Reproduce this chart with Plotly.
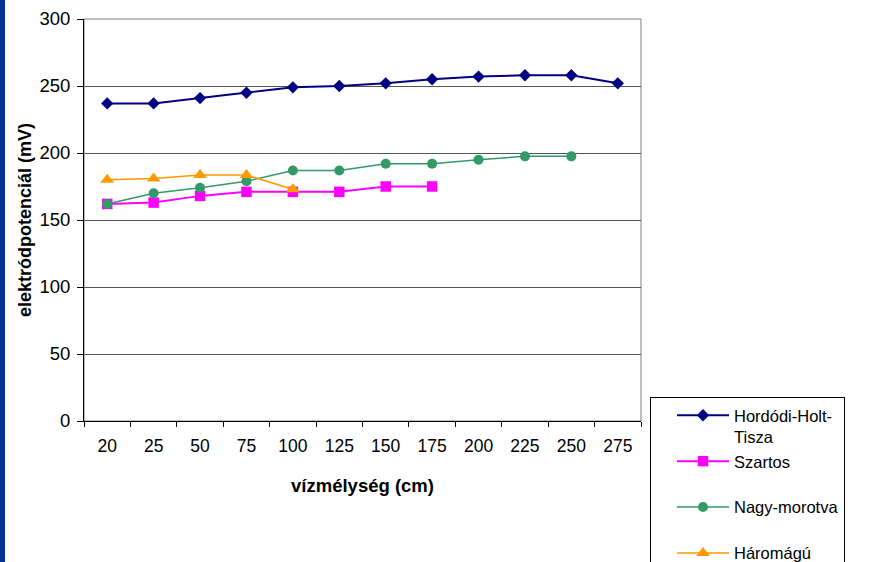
import plotly.graph_objects as go

depths = ["20", "25", "50", "75", "100", "125", "150", "175", "200", "225", "250", "275"]

hordodi = [237, 237, 241, 245, 249, 250, 252, 255, 257, 258, 258, 252]
szartos = [162, 163, 168, 171, 171, 171, 175, 175]
nagy_morotva = [162, 170, 174, 179, 187, 187, 192, 192, 195, 197.5, 197.5]
haromagu = [180, 181, 183.5, 183.5, 173]

series = [
    ("Hordódi-Holt-<br>Tisza", hordodi, "#000080", "diamond", 9.5, 2),
    ("Szartos<br>&nbsp;", szartos, "#FF00FF", "square", 10.5, 2),
    ("Nagy-morotva<br>&nbsp;", nagy_morotva, "#339966", "circle", 10, 1.5),
    ("Háromágú<br>&nbsp;", haromagu, "#FF9900", "triangle-up", 12, 1.5),
]

W, H = 874, 562
L, R, T, B = 84, 641, 19, 421

fig = go.Figure()
for name, vals, color, sym, msize, lw in series:
    fig.add_trace(go.Scatter(
        x=depths[:len(vals)], y=vals, name=name, mode="lines+markers",
        line=dict(color=color, width=lw),
        marker=dict(symbol=sym, size=msize, color=color, line=dict(width=0)),
    ))

font = "Liberation Sans, Arial, sans-serif"

fig.update_layout(
    width=W, height=H,
    margin=dict(l=L, r=W - R, t=T, b=H - B, autoexpand=False),
    paper_bgcolor="white", plot_bgcolor="white",
    font=dict(family=font, size=18, color="black"),
    showlegend=True,
    legend=dict(
        xref="container", yref="container",
        x=650 / W, y=1 - 397 / H, xanchor="left", yanchor="top",
        bgcolor="white", bordercolor="black", borderwidth=1,
        font=dict(family=font, size=16.5, color="black"),
        valign="top", itemwidth=52, indentation=21, tracegroupgap=0,
    ),
    xaxis=dict(
        type="category", categoryorder="array", categoryarray=depths,
        range=[-0.5, len(depths) - 0.5],
        tickson="boundaries", ticks="outside", ticklen=5, tickcolor="black",
        showline=True, linecolor="black", linewidth=1,
        showgrid=False, zeroline=False,
        tickfont=dict(size=17.5), ticklabelstandoff=9,
        title=dict(text="<b>vízmélység (cm)</b>", font=dict(size=18.5), standoff=24),
    ),
    yaxis=dict(
        range=[0, 300], dtick=50, tick0=0,
        ticks="outside", ticklen=6, tickcolor="black",
        showline=True, linecolor="black", linewidth=1,
        showgrid=True, gridcolor="#555555", gridwidth=1, zeroline=False,
        tickfont=dict(size=18.5), ticklabelstandoff=3,
        title=dict(text="<b>elektródpotenciál (mV)</b>", font=dict(size=18), standoff=3),
    ),
    shapes=[
        dict(type="rect", xref="paper", yref="paper", x0=0, x1=1, y0=0, y1=1,
             line=dict(color="#808080", width=1), layer="below"),
        dict(type="rect", xref="paper", yref="paper",
             x0=(0 - L) / (R - L), x1=(5 - L) / (R - L), y0=-(H - B) / (B - T), y1=1 + T / (B - T),
             line=dict(width=0), fillcolor="#003399", layer="above"),
    ],
)

fig.write_html("out.html", config={"displayModeBar": False},
               post_script="document.body.style.margin='0';")
